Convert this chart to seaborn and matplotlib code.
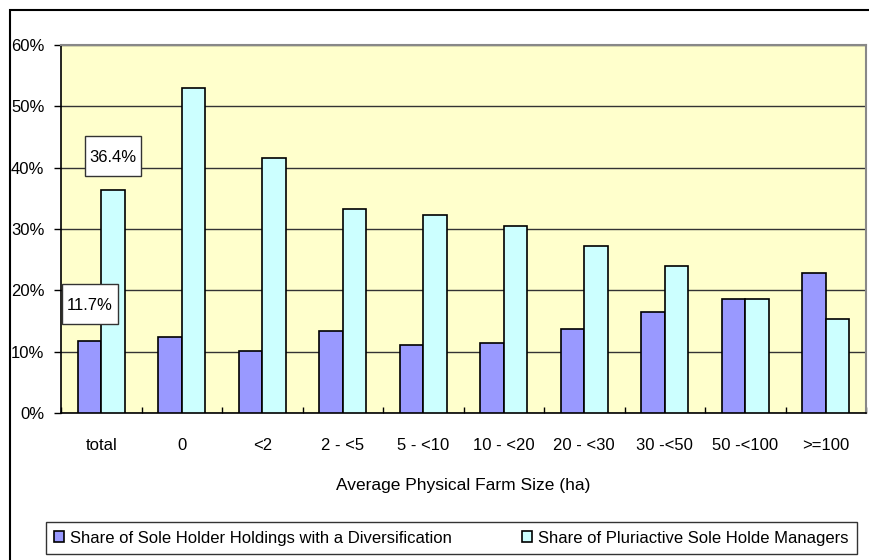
import numpy as np
import matplotlib.pyplot as plt
import matplotlib.patches as mpatches
import matplotlib.transforms as mtransforms
import seaborn as sns
import pandas as pd

# values
sizes = ["total", "0", "<2", "2 - <5", "5 - <10", "10 - <20",
         "20 - <30", "30 -<50", "50 -<100", ">=100"]
divers = [11.7, 12.4, 10.1, 13.3, 11.1, 11.4, 13.7, 16.4, 18.6, 22.8]
pluri = [36.4, 53.0, 41.6, 33.3, 32.3, 30.5, 27.3, 23.9, 18.6, 15.3]
series = ["Share of Sole Holder Holdings with a Diversification",
          "Share of Pluriactive Sole Holde Managers"]

df = pd.DataFrame({
    "size": sizes * 2,
    "share": divers + pluri,
    "series": [series[0]] * len(sizes) + [series[1]] * len(sizes),
})

plt.rcParams['font.family'] = ['Liberation Sans', 'DejaVu Sans']
fs = 12

fig = plt.figure(figsize=(8.7, 5.6), dpi=100)
ax = fig.add_axes([61 / 870, 147 / 560, 805 / 870, 368 / 560])
ax.set_facecolor("#FFFFCC")

sns.barplot(data=df, x="size", y="share", hue="series",
            palette=["#9999FF", "#CCFFFF"], edgecolor="black",
            linewidth=1.2, width=0.58, saturation=1, ax=ax, zorder=3)

ax.set_ylim(0, 60)
ax.set_xlim(-0.5, len(sizes) - 0.5)
ax.set_yticks(range(0, 61, 10))
ax.set_yticklabels([f"{v}%" for v in range(0, 61, 10)])
ax.yaxis.grid(True, color="#333333", linewidth=1, zorder=0)
ax.set_axisbelow(True)

ax.tick_params(axis="y", direction="out", length=5, width=1, pad=7, labelsize=fs)
ax.tick_params(axis="x", which="major", length=0, pad=18, labelsize=fs)
ax.set_xticks(np.arange(-0.5, len(sizes), 1), minor=True)
ax.tick_params(axis="x", which="minor", direction="in", length=4, width=1)

ax.set_xlabel("Average Physical Farm Size (ha)", fontsize=12.5, labelpad=18)
ax.set_ylabel("")

for side in ["left", "bottom"]:
    ax.spines[side].set_color("black")
    ax.spines[side].set_linewidth(1.2)
for side in ["top", "right"]:
    ax.spines[side].set_color("#888888")
    ax.spines[side].set_linewidth(1.5)

# data labels for the "total" group (fixed-size boxes, 0.56 x 0.40 in)
for cont, vals, off in [(ax.containers[1], pluri, 5.5), (ax.containers[0], divers, 6.1)]:
    b = cont[0]
    xc = b.get_x() + b.get_width() / 2
    yc = vals[0] + off
    trans = fig.dpi_scale_trans + mtransforms.ScaledTranslation(xc, yc, ax.transData)
    ax.add_patch(mpatches.Rectangle((-0.28, -0.20), 0.56, 0.40, transform=trans,
                                    facecolor="white", edgecolor="#333333",
                                    linewidth=1, zorder=5, clip_on=False))
    ax.text(xc, yc, f"{vals[0]}%", ha="center", va="center_baseline",
            fontsize=12, zorder=6)

handles, labels = ax.get_legend_handles_labels()
ax.legend_.remove()
leg = fig.legend(handles, labels, loc="center", ncol=2, mode="expand",
                 bbox_to_anchor=(46 / 870, 2 / 560, 811 / 870, 40 / 560),
                 fontsize=fs, frameon=True, fancybox=False,
                 handlelength=0.6, handleheight=0.6, handletextpad=0.35,
                 borderpad=0.5, borderaxespad=0)
leg.get_frame().set_edgecolor("black")
leg.get_frame().set_linewidth(1)

# outer chart border
fig.patches.append(mpatches.Rectangle((10 / 870, -0.05), 1.1, (560 - 10) / 560 + 0.05,
                                      transform=fig.transFigure, fill=False,
                                      edgecolor="black", linewidth=1.5))

fig.savefig("out.png", dpi=100)
